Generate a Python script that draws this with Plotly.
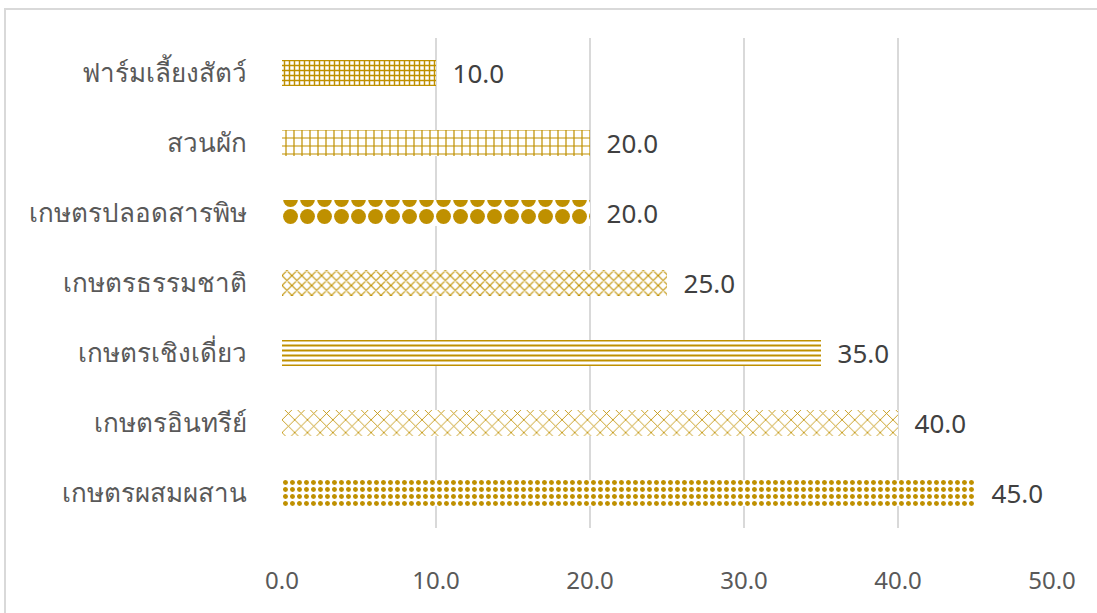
import plotly.graph_objects as go

categories = ["เกษตรผสมผสาน", "เกษตรอินทรีย์", "เกษตรเชิงเดี่ยว", "เกษตรธรรมชาติ",
              "เกษตรปลอดสารพิษ", "สวนผัก", "ฟาร์มเลี้ยงสัตว์"]
values = [45.0, 40.0, 35.0, 25.0, 20.0, 20.0, 10.0]
x_ticks = [0, 10, 20, 30, 40, 50]
x_tick_labels = ["0.0", "10.0", "20.0", "30.0", "40.0", "50.0"]

pattern_shapes = [".", "x", "-", "x", ".", "+", "+"]
pattern_sizes = [7, 9, 5, 7, 17, 8, 5]
pattern_solidity = [0.4, 0.18, 0.4, 0.3, 0.6, 0.28, 0.5]

GOLD = "#BF9000"
TEXT = "#595959"
W, H = 1097, 613
ML, MR, MT, MB = 282, 45, 38, 85

fig = go.Figure(go.Bar(
    y=categories, x=values, orientation="h",
    width=0.37,
    marker=dict(color="white", line=dict(width=0),
                pattern=dict(shape=pattern_shapes, size=pattern_sizes,
                             solidity=pattern_solidity, fgcolor=GOLD, fgopacity=1,
                             bgcolor="white", fillmode="overlay")),
    texttemplate="  %{x:.1f}", textposition="outside",
    constraintext="none",
    textfont=dict(size=26, color="#404040", family="Noto Sans"),
    cliponaxis=False,
))

pw = W - ML - MR
ph = H - MT - MB
fig.add_shape(type="rect", xref="paper", yref="paper",
              x0=(5 - ML) / pw, x1=(W + 10 - ML) / pw,
              y0=-(MB + 10) / ph,
              y1=1 + (MT - 9) / ph,
              line=dict(color="#D9D9D9", width=2), fillcolor="rgba(0,0,0,0)", layer="below")

fig.update_layout(
    width=W, height=H,
    margin=dict(l=ML, r=MR, t=MT, b=MB, autoexpand=False),
    paper_bgcolor="white", plot_bgcolor="white",
    showlegend=False,
    font=dict(family="Noto Sans", color=TEXT, size=24),
    xaxis=dict(range=[0, 50], tickvals=x_ticks, ticktext=x_tick_labels,
               showgrid=True, gridcolor="#D9D9D9", gridwidth=2,
               zeroline=False, showline=False, ticks="", automargin=False,
               tickfont=dict(size=24, color=TEXT), ticklabelstandoff=36),
    yaxis=dict(showgrid=False, zeroline=False, showline=False, ticks="", automargin=False,
               tickfont=dict(size=26, color=TEXT), ticklabelstandoff=34),
)

fig.write_html("out.html", config={"displayModeBar": False},
               post_script="document.body.style.margin='0';document.body.style.overflow='hidden';")
